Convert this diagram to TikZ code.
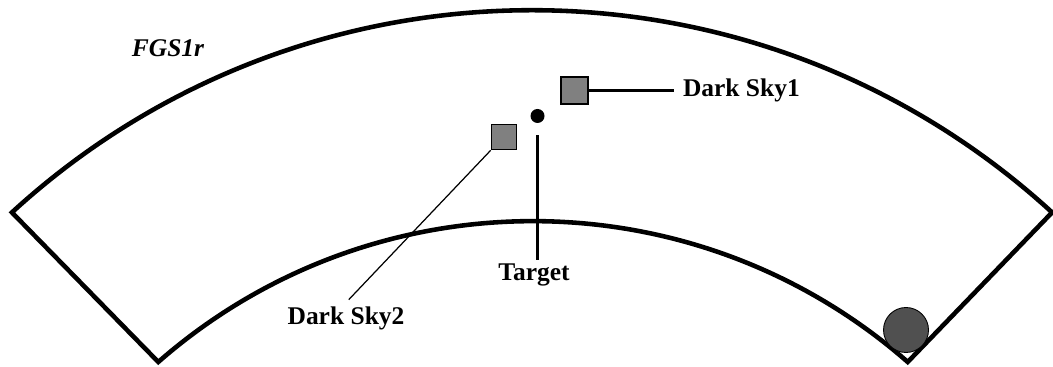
\documentclass[tikz,border=0pt]{standalone}
\usepackage{fontspec}
\setmainfont{Liberation Serif}
\usetikzlibrary{calc,positioning}
\definecolor{SkyGray}{HTML}{808080}
\definecolor{StarGray}{HTML}{505050}

\begin{document}
\begin{tikzpicture}[x=0.02cm,y=0.02cm,font=\fontsize{14.5}{17}\selectfont\bfseries,
    skybox/.style={draw=black,line width=1pt,fill=SkyGray,inner sep=0pt},
    lbl/.style={inner sep=2pt},
    leader/.style={draw=black,line width=1.2pt}]
  \useasboundingbox (0,0) rectangle (1053,367);
  \coordinate (outerc) at (532,-413);
  \coordinate (innerc) at (533,-423);
  % field of view
  \draw[line width=2.6pt]
    ($(outerc)+(47.5:15.4cm)$) arc[start angle=47.5,end angle=132.5,radius=15.4cm]
    -- ($(innerc)+(131.2:11.38cm)$) arc[start angle=131.2,end angle=48.8,radius=11.38cm]
    -- cycle;
  \node[font=\fontsize{14.5}{17}\selectfont\bfseries\itshape] (fgs) at (168,319) {FGS1r};

  \node[skybox,minimum size=0.54cm] (sky1) at (574.5,276.5) {};
  \node[skybox,minimum size=0.5cm] (sky2) at (504,230) {};
  \node[circle,fill=black,inner sep=0pt,minimum size=0.28cm] (target) at (537.5,251) {};
  \node[circle,draw=black,line width=0.5pt,fill=StarGray,inner sep=0pt,minimum size=0.9cm] (star) at (906,37) {};

  \node[lbl,right=1.7cm of sky1,inner sep=5pt] (sky1lbl) {Dark Sky1};
  \node[lbl] (targetlbl) at (534,92) {Target};
  \node[lbl] (sky2lbl) at (346,49) {Dark Sky2};

  \draw[leader] (sky1.east) -- (sky1lbl.west);
  \draw[leader,shorten <=0.24cm] (target.south) -- (target.south |- targetlbl.north);
  \draw[line width=0.7pt,shorten >=0.08cm] (sky2.south west) -- (sky2lbl.north);
\end{tikzpicture}
\end{document}
